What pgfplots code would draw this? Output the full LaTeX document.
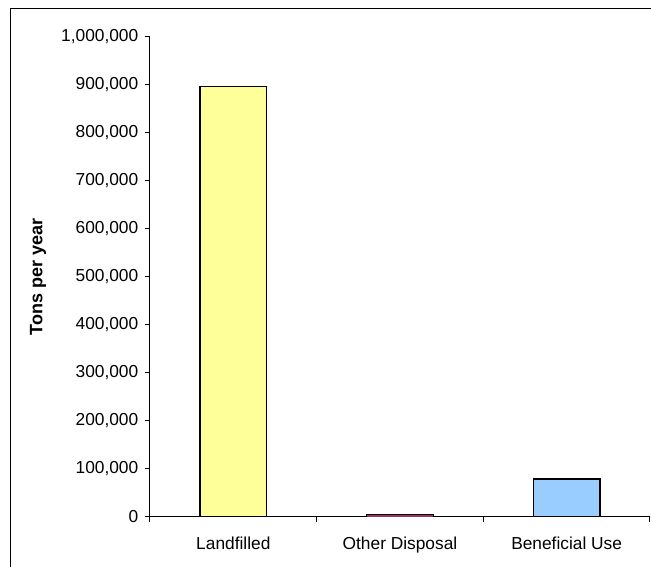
\documentclass[border=0pt]{standalone}
\usepackage{pgfplots}
\pgfplotsset{compat=1.18}
\usepackage{fontspec}
\setmainfont{Liberation Sans}

\definecolor{landfill}{HTML}{FFFF99}
\definecolor{otherdisp}{HTML}{993366}
\definecolor{benefit}{HTML}{99CCFF}

\begin{document}
\begin{tikzpicture}
\begin{axis}[
  at={(0,0)}, anchor=south west,
  scale only axis,
  width=375pt, height=360pt,
  xmin=0.5, xmax=3.5,
  ymin=0, ymax=1000000,
  axis x line=bottom, axis y line=left,
  axis line style={-, line width=0.75pt},
  ybar, bar width=0.4, bar shift=0pt,
  xtick={1,2,3},
  xticklabels={Landfilled, Other Disposal, Beneficial Use},
  minor xtick={0.5,1.5,2.5,3.5},
  ytick={0,100000,...,1000000},
  scaled y ticks=false,
  tick align=outside,
  major tick length=3.75pt, minor tick length=3.75pt,
  major x tick style={draw=none},
  tick style={line width=0.75pt, black},
  /pgf/number format/.cd, fixed, 1000 sep={,}, assume math mode=true,
  /pgfplots/.cd,
  tick label style={font=\fontsize{13}{15}\selectfont},
  xticklabel style={yshift=-8pt},
  yticklabel style={xshift=-1.5pt},
  ylabel={Tons per year},
  ylabel style={font=\fontsize{13.5}{15}\selectfont\bfseries,
    at={(axis description cs:-0.224,0.5)}, anchor=center},
]
\addplot[fill=landfill, draw=black, line width=1pt] coordinates {(1,896500)};
\addplot[fill=otherdisp, draw=black, line width=0.6pt] coordinates {(2,6000)};
\addplot[fill=benefit, draw=black, line width=1pt] coordinates {(3,79000)};
\end{axis}
\draw[line width=0.75pt] (-104.25pt,-37.5pt) -- (-104.25pt,381pt) -- (375.75pt,381pt);
\pgfresetboundingbox
\useasboundingbox (-112.5pt,-37.5pt) rectangle (375.75pt,387.75pt);
\end{tikzpicture}
\end{document}
